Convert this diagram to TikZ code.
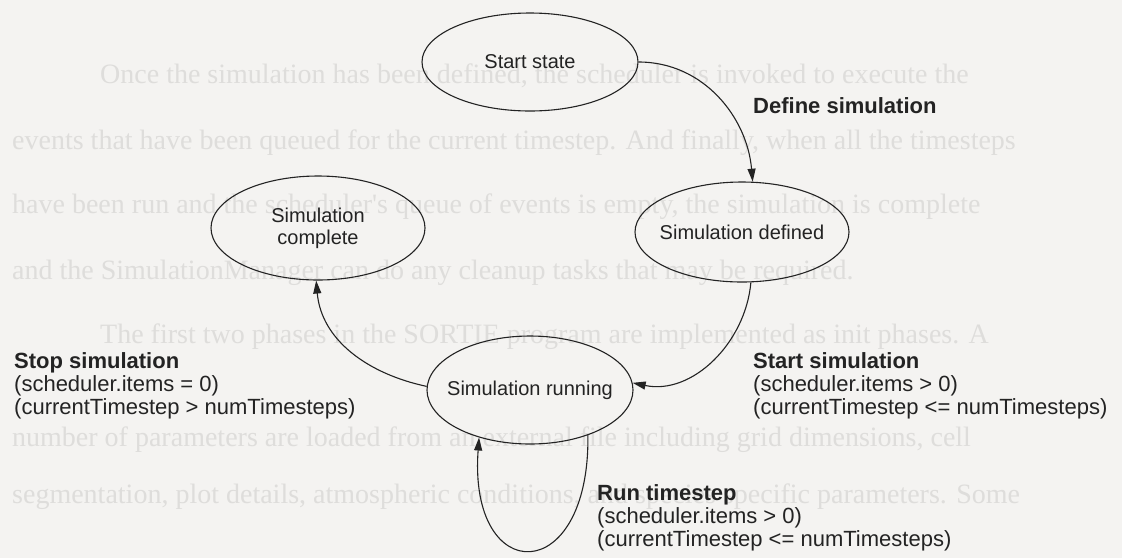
\documentclass[tikz,border=0pt]{standalone}
\usepackage{fontspec}
\setmainfont{Liberation Sans}
\newfontfamily\pagefont{Liberation Serif}
\usetikzlibrary{arrows.meta,shapes.geometric}
\definecolor{paper}{RGB}{244,243,241}
\definecolor{ghost}{RGB}{222,221,219}
\definecolor{ink}{RGB}{35,35,35}
\begin{document}
\begin{tikzpicture}[x=1pt,y=1pt,
  state/.style={ellipse,draw=ink,line width=1.1pt,minimum width=214pt,minimum height=100pt,
    inner xsep=-30pt,inner ysep=0pt,text=ink,font=\fontsize{20}{22}\selectfont,align=center},
  trans/.style={draw=ink,line width=1.1pt,-{Triangle[length=13pt,width=8pt]}},
  lbl/.style={anchor=north west,inner sep=0pt,align=left,text=ink,font=\fontsize{22}{23}\selectfont},
  bleed/.style={anchor=base west,inner sep=0pt,text=ghost,font=\pagefont\fontsize{28}{28}\selectfont}]
\fill[paper] (0,0) rectangle (1122,-558);
\useasboundingbox (0,0) rectangle (1122,-558);

% text of the facing page showing through the paper
\node[bleed] (p1) at (100,-83) {Once the simulation has been defined, the scheduler is invoked to execute the};
\node[bleed] (p2) at (12,-149) {events that have been queued for the current timestep. And finally, when all the timesteps};
\node[bleed] (p3) at (12,-213) {have been run and the scheduler's queue of events is empty, the simulation is complete};
\node[bleed] (p4) at (12,-279) {and the SimulationManager can do any cleanup tasks that may be required.};
\node[bleed] (p5) at (100,-343) {The first two phases in the SORTIE program are implemented as init phases. A};
\node[bleed] (p6) at (12,-446) {number of parameters are loaded from an external file including grid dimensions, cell};
\node[bleed] (p7) at (12,-503) {segmentation, plot details, atmospheric conditions, and species specific parameters. Some};

% states
\node[state,minimum width=216pt,minimum height=98pt] (start) at (530,-62) {Start state};
\node[state,minimum width=214pt] (defined) at (742,-232) {Simulation defined};
\node[state,minimum width=214pt,minimum height=104pt] (complete) at (318,-228) {Simulation\\complete};
\node[state,minimum width=206pt,minimum height=108pt] (running) at (530,-390) {Simulation running};

% transitions
\draw[trans] (start.east) to[out=0,in=95] (defined.78);
\draw[trans] (defined.-80) to[out=-95,in=-12] (running.4);
\draw[trans] (running.178) to[out=168,in=-85] (complete.-92);
\draw[trans] (running.-38) .. controls (590,-588) and (468,-588) .. (running.-137);

% transition labels
\node[lbl] (ldefine) at (753,-97) {\textbf{Define simulation}};
\node[lbl] (lstart) at (753,-352) {\textbf{Start simulation}\\(scheduler.items > 0)\\(currentTimestep <= numTimesteps)};
\node[lbl] (lstop) at (14,-352) {\textbf{Stop simulation}\\(scheduler.items = 0)\\(currentTimestep > numTimesteps)};
\node[lbl] (lrun) at (597,-484) {\textbf{Run timestep}\\(scheduler.items > 0)\\(currentTimestep <= numTimesteps)};
\end{tikzpicture}
\end{document}
